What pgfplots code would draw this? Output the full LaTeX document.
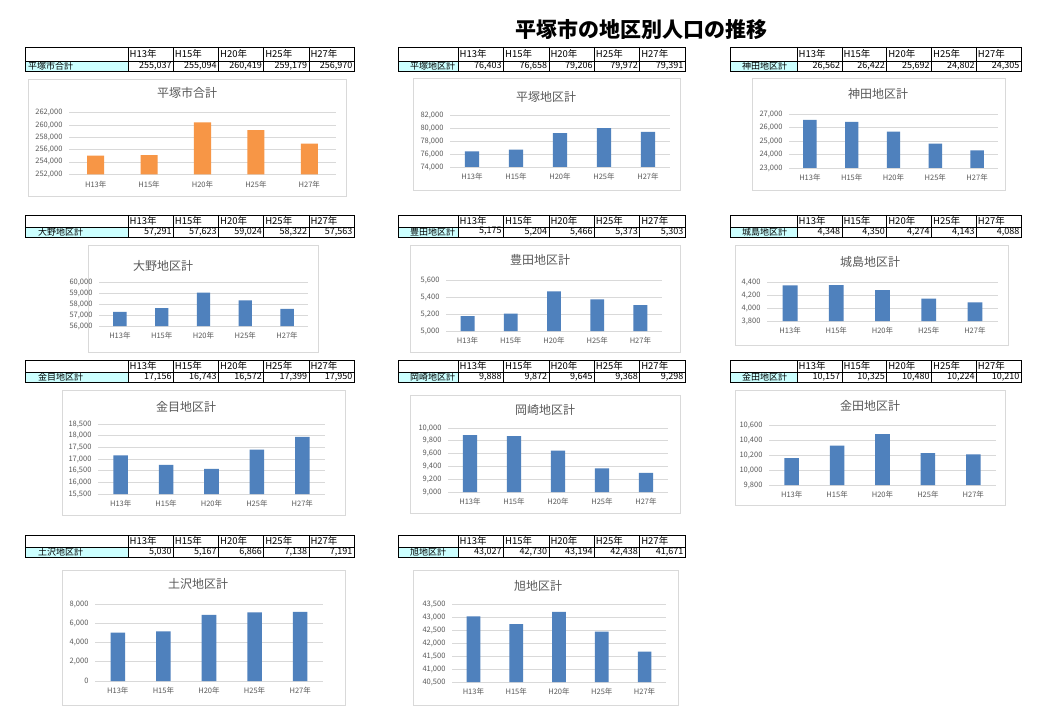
\documentclass[border=0pt]{standalone}
\usepackage{fontspec}
\setmainfont{Noto Sans CJK JP}
\usepackage{pgfplots}
\pgfplotsset{compat=1.18}
\definecolor{barblue}{HTML}{4F81BD}
\definecolor{barorange}{HTML}{F79646}
\definecolor{gridgray}{HTML}{D9D9D9}
\definecolor{labgray}{HTML}{595959}
\definecolor{labcyan}{HTML}{CCFFFF}
\definecolor{boxgray}{HTML}{D9D9D9}
\newcommand{\tblfont}{\fontsize{9.5}{10}\selectfont}
\newcommand{\datfont}{\fontsize{9}{10}\selectfont}
\pgfplotsset{mini/.style={scale only axis, anchor=south west, ybar, bar width=0.32,
  xmin=-0.5, xmax=4.5, xtick={0,1,2,3,4},
  xticklabels={H13年,H15年,H20年,H25年,H27年},
  axis line style={draw=none}, major tick length=0pt,
  ymajorgrids, grid style={draw=gridgray, line width=0.7pt},
  tick label style={font=\fontsize{7.5}{8}\selectfont, text=labgray},
  xticklabel style={yshift=-3pt},
  yticklabel style={xshift=-3pt, /pgf/number format/fixed, /pgf/number format/1000 sep={,}},
  scaled y ticks=false, /pgf/number format/assume math mode=true}}
\newcommand{\minichart}[9]{%
  \pgfmathsetlengthmacro\cw{#2-#1}%
  \pgfmathsetlengthmacro\ch{#4-#3}%
  \begin{axis}[mini, at={(#1pt,-#4pt)}, width=\cw, height=\ch, ymin=#5, ymax=#6, ytick={#7}]
  \addplot[fill=#8, draw=none] coordinates {#9};
  \end{axis}}
% #1 x0 #2 xl #3 w #4 ytop #5 hh #6 labelx #7 label #8 values
\newcommand{\tbl}[8]{%
  \pgfmathsetmacro\ymid{#4+#5}%
  \pgfmathsetmacro\ybot{#4+#5+10}%
  \pgfmathsetmacro\xr{#2+5*#3}%
  \fill[labcyan] (#1,-\ymid) rectangle (#2,-\ybot);
  \draw[line width=0.6pt] (#1,-#4) rectangle (\xr,-\ybot);
  \draw[line width=0.6pt] (#1,-\ymid) -- (\xr,-\ymid);
  \foreach \i in {0,...,4} \draw[line width=0.6pt] ({#2+\i*#3},-#4) -- ({#2+\i*#3},-\ybot);
  \foreach \t [count=\i from 0] in {H13年,H15年,H20年,H25年,H27年}
    \node[anchor=west, inner sep=0pt, font=\tblfont] at ({#2+\i*#3+1.5},{-(#4+#5/2)}) {\t};
  \node[anchor=west, inner sep=0pt, font=\datfont] at (#6,{-(\ymid+4.6)}) {#7};
  \foreach \v [count=\i from 1] in {#8}
    \node[anchor=east, inner sep=0pt, font=\datfont] at ({#2+\i*#3-1.5},{-(\ymid+4.6)}) {\pgfmathprintnumber[fixed, precision=0, 1000 sep={,}, assume math mode=true]{\v}};
}
\newcommand{\cbox}[7]{% x0 x1 y0 y1 titlex titley title
  \draw[boxgray, line width=0.7pt, fill=white] (#1,-#3) rectangle (#2,-#4);
  \node[font=\fontsize{12}{12}\selectfont, text=labgray] at (#5,-#6) {#7};}
\begin{document}
\begin{tikzpicture}[x=1pt,y=1pt]
\fill[white] (0,0) rectangle (1062,-727);
\path[use as bounding box] (0,0) rectangle (1062,-727);
\node[font=\fontsize{21}{21}\selectfont\bfseries] at (641,-30) {平塚市の地区別人口の推移};
% tables
\tbl{25}{128}{45.2}{47}{14}{28}{平塚市合計}{255037,255094,260419,259179,256970}
\tbl{398}{458}{45.4}{47}{14}{410}{平塚地区計}{76403,76658,79206,79972,79391}
\tbl{730}{797}{44.8}{47}{14}{742}{神田地区計}{26562,26422,25692,24802,24305}
\tbl{25}{128}{45.2}{215}{12}{38}{大野地区計}{57291,57623,59024,58322,57563}
\tbl{398}{458}{45.4}{215}{12}{410}{豊田地区計}{5175,5204,5466,5373,5303}
\tbl{730}{797}{44.8}{215}{12}{742}{城島地区計}{4348,4350,4274,4143,4088}
\tbl{25}{128}{45.2}{360}{12}{38}{金目地区計}{17156,16743,16572,17399,17950}
\tbl{398}{458}{45.4}{360}{12}{410}{岡崎地区計}{9888,9872,9645,9368,9298}
\tbl{730}{797}{44.8}{360}{12}{742}{金田地区計}{10157,10325,10480,10224,10210}
\tbl{25}{128}{45.2}{535}{12}{38}{土沢地区計}{5030,5167,6866,7138,7191}
\tbl{398}{458}{45.4}{535}{12}{410}{旭地区計}{43027,42730,43194,42438,41671}
% chart boxes
\cbox{28}{346}{79}{196}{187}{93}{平塚市合計}
\cbox{413}{680}{78}{190}{546}{97}{平塚地区計}
\cbox{752}{1005}{78}{190}{878}{94}{神田地区計}
\cbox{88}{318}{245}{352}{163}{266}{大野地区計}
\cbox{410}{680}{245}{352}{540}{260}{豊田地区計}
\cbox{735}{1008}{245}{345}{870}{262}{城島地区計}
\cbox{62}{345}{390}{515}{186}{407}{金目地区計}
\cbox{410}{680}{395}{513}{545}{410}{岡崎地区計}
\cbox{735}{1005}{390}{505}{870}{406}{金田地区計}
\cbox{62}{345}{570}{705}{198}{584}{土沢地区計}
\cbox{413}{678}{570}{705}{538}{586}{旭地区計}
% charts
\minichart{69}{336}{112.7}{174.3}{252000}{262000}{252000,254000,256000,258000,260000,262000}{barorange}{(0,255037) (1,255094) (2,260419) (3,259179) (4,256970)}
\minichart{450}{670}{115}{167}{74000}{82000}{74000,76000,78000,80000,82000}{barblue}{(0,76403) (1,76658) (2,79206) (3,79972) (4,79391)}
\minichart{789}{998}{114}{168}{23000}{27000}{23000,24000,25000,26000,27000}{barblue}{(0,26562) (1,26422) (2,25692) (3,24802) (4,24305)}
\minichart{99}{308}{282}{326}{56000}{60000}{56000,57000,58000,59000,60000}{barblue}{(0,57291) (1,57623) (2,59024) (3,58322) (4,57563)}
\minichart{446}{662}{280}{331}{5000}{5600}{5000,5200,5400,5600}{barblue}{(0,5175) (1,5204) (2,5466) (3,5373) (4,5303)}
\minichart{767}{998}{282}{321}{3800}{4400}{3800,4000,4200,4400}{barblue}{(0,4348) (1,4350) (2,4274) (3,4143) (4,4088)}
\minichart{98}{325}{424}{494}{15500}{18500}{15500,16000,16500,17000,17500,18000,18500}{barblue}{(0,17156) (1,16743) (2,16572) (3,17399) (4,17950)}
\minichart{448}{668}{428}{492}{9000}{10000}{9000,9200,9400,9600,9800,10000}{barblue}{(0,9888) (1,9872) (2,9645) (3,9368) (4,9298)}
\minichart{769}{996}{425}{485}{9800}{10600}{9800,10000,10200,10400,10600}{barblue}{(0,10157) (1,10325) (2,10480) (3,10224) (4,10210)}
\minichart{95}{323}{604}{681}{0}{8000}{0,2000,4000,6000,8000}{barblue}{(0,5030) (1,5167) (2,6866) (3,7138) (4,7191)}
\minichart{452}{666}{604}{682}{40500}{43500}{40500,41000,41500,42000,42500,43000,43500}{barblue}{(0,43027) (1,42730) (2,43194) (3,42438) (4,41671)}
\end{tikzpicture}
\end{document}
